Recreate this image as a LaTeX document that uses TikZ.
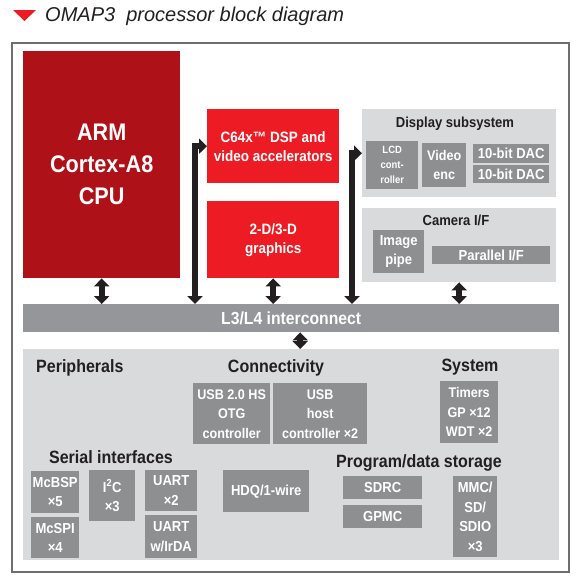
\documentclass[tikz,border=0pt]{standalone}
\usepackage{fontspec}
\setmainfont{Liberation Sans}
\newfontfamily\condfont[FakeStretch=0.9]{Liberation Sans}
\usetikzlibrary{arrows.meta}
\definecolor{armred}{RGB}{175,17,24}
\definecolor{dspred}{RGB}{237,28,36}
\definecolor{panelgray}{RGB}{217,218,219}
\definecolor{busgray}{RGB}{148,150,153}
\definecolor{blockgray}{RGB}{141,143,145}
\definecolor{inkdark}{RGB}{35,31,32}
\definecolor{framegray}{RGB}{109,110,112}
\newcommand{\bfont}[2]{\condfont\bfseries\fontsize{#1}{#2}\selectfont}

\begin{document}
\begin{tikzpicture}[x=1pt, y=-1pt,
    block/.style={anchor=north west, inner sep=0pt, align=center, text=white},
    redblk/.style={block, fill=dspred},
    grayblk/.style={block, fill=blockgray},
    panel/.style={block, fill=panelgray},
    head/.style={text=inkdark, inner sep=0pt, font=\bfont{17.8}{20}},
    subhead/.style={text=inkdark, inner sep=0pt, font=\bfont{14.5}{17}},
    bus/.style={draw=inkdark, line width=6pt,
        {Triangle[width=15pt,length=8pt]}-{Triangle[width=15pt,length=8pt]}}]
    \useasboundingbox (0,0) rectangle (580,582);
    % title
    \fill[dspred] (13,10) -- (36,10) -- (24.5,21) -- cycle;
    \node[anchor=base west, inner sep=0pt, text=inkdark,
        font=\itshape\fontsize{20}{24}\selectfont] (title) at (45,21)
        {OMAP3\ \ processor block diagram};
    \node[anchor=north west, draw=framegray, line width=1.5pt,
        minimum width=557pt, minimum height=529pt] (frm) at (11,42) {};
    % processors
    \node[block, fill=armred, minimum width=157pt, minimum height=227pt,
        font=\bfont{24}{32}] (arm) at (23,51) {ARM\\Cortex-A8\\CPU};
    \node[redblk, minimum width=132pt, minimum height=74pt,
        font=\bfont{15}{19}] (dsp) at (207,109)
        {C64x™ DSP and\\video accelerators};
    \node[redblk, minimum width=132pt, minimum height=77pt,
        font=\bfont{15}{19}] (gfx) at (207,201) {2-D/3-D\\graphics};
    % display subsystem
    \node[panel, minimum width=194pt, minimum height=88pt] (disp) at (362,109) {};
    \node[subhead] (disph) at (455,124) {Display subsystem};
    \node[grayblk, minimum width=52pt, minimum height=48pt,
        font=\bfont{10.5}{15}] (lcd) at (366,141) {LCD\\cont-\\roller};
    \node[grayblk, minimum width=44pt, minimum height=44pt,
        font=\bfont{14}{19.5}] (venc) at (422,143) {Video\\enc};
    \node[grayblk, minimum width=76pt, minimum height=19pt,
        font=\bfont{14.5}{17}] (daca) at (473,144) {10-bit DAC};
    \node[grayblk, minimum width=76pt, minimum height=18pt,
        font=\bfont{14.5}{17}] (dacb) at (473,165) {10-bit DAC};
    % camera
    \node[panel, minimum width=194pt, minimum height=74pt] (cam) at (362,208) {};
    \node[subhead] (camh) at (456,220) {Camera I/F};
    \node[grayblk, minimum width=51pt, minimum height=43pt,
        font=\bfont{14.5}{19.5}] (ipipe) at (373,230) {Image\\pipe};
    \node[grayblk, minimum width=118pt, minimum height=18pt,
        font=\bfont{14.5}{17}] (parif) at (432,246) {Parallel I/F};
    % interconnect
    \node[block, fill=busgray, minimum width=536pt, minimum height=28pt,
        font=\bfont{17.5}{20}] (l3) at (23,304) {L3/L4 interconnect};
    % peripherals
    \node[panel, minimum width=536pt, minimum height=211pt] (periph) at (23,349) {};
    \node[head, anchor=west] (perh) at (36,368) {Peripherals};
    \node[head] (conh) at (276,368) {Connectivity};
    \node[head] (sysh) at (470,367) {System};
    \node[head] (serh) at (111,457) {Serial interfaces};
    \node[head] (stoh) at (419,463) {Program/data storage};
    \node[grayblk, minimum width=77pt, minimum height=61pt,
        font=\bfont{14}{19.5}] (usbotg) at (193,383) {USB 2.0 HS\\OTG\\controller};
    \node[grayblk, minimum width=94pt, minimum height=61pt,
        font=\bfont{14}{19.5}] (usbhost) at (273,383) {USB\\host\\controller ×2};
    \node[grayblk, minimum width=58pt, minimum height=62pt,
        font=\bfont{14}{19.5}] (timers) at (440,381) {Timers\\GP ×12\\WDT ×2};
    \node[grayblk, minimum width=48pt, minimum height=42pt,
        font=\bfont{14.5}{19.5}] (mcbsp) at (31,471) {McBSP\\×5};
    \node[grayblk, minimum width=48pt, minimum height=41pt,
        font=\bfont{14.5}{19.5}] (mcspi) at (31,517) {McSPI\\×4};
    \node[grayblk, minimum width=46pt, minimum height=51pt,
        font=\bfont{14.5}{19.5}] (iic) at (89,470) {I\textsuperscript{2}C\\×3};
    \node[grayblk, minimum width=52pt, minimum height=41pt,
        font=\bfont{14.5}{19.5}] (uarta) at (145,470) {UART\\×2};
    \node[grayblk, minimum width=52pt, minimum height=43pt,
        font=\bfont{14.5}{19.5}] (uartb) at (145,515) {UART\\w/IrDA};
    \node[grayblk, minimum width=86pt, minimum height=42pt,
        font=\bfont{14.5}{19.5}] (hdq) at (223,470) {HDQ/1-wire};
    \node[grayblk, minimum width=79pt, minimum height=23pt,
        font=\bfont{14.5}{17}] (sdrc) at (343,476) {SDRC};
    \node[grayblk, minimum width=79pt, minimum height=23pt,
        font=\bfont{14.5}{17}] (gpmc) at (343,505) {GPMC};
    \node[grayblk, minimum width=44pt, minimum height=81pt,
        font=\bfont{14.5}{19.5}] (mmc) at (453,476) {MMC/\\SD/\\SDIO\\×3};
    % buses
    \draw[bus] (arm.south) -- (arm.south |- l3.north);
    \draw[bus] (dsp.west) -| ([xshift=-12pt]dsp.west |- l3.north);
    \draw[bus] (gfx.south) -- (gfx.south |- l3.north);
    \draw[bus] (disp.west) -| ([xshift=-10pt]disp.west |- l3.north);
    \draw[bus] (cam.south) -- (cam.south |- l3.north);
    \draw[bus] ([xshift=9pt]l3.south) -- ([xshift=9pt]l3.south |- periph.north);
\end{tikzpicture}
\end{document}
